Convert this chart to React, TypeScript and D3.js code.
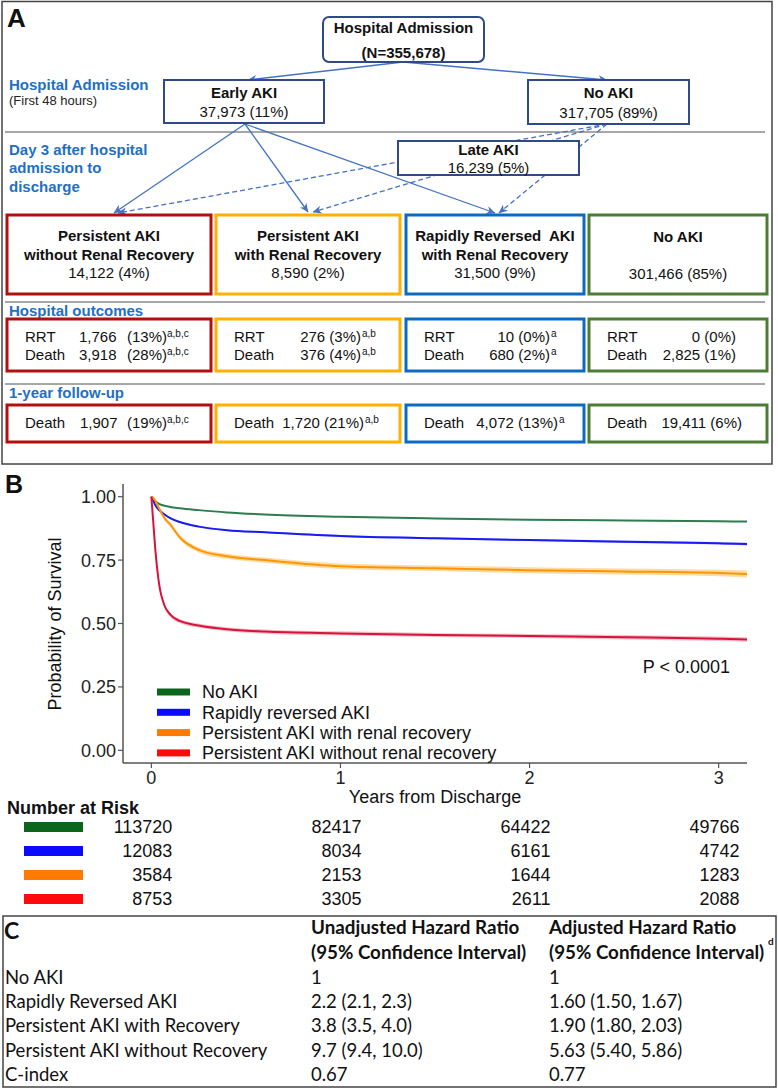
import React from 'react';
import * as d3 from 'd3';

const W = 778;
const H = 1088;
const SANS = "'Liberation Sans', Arial, Helvetica, sans-serif";
const CAL = "Lato, 'Liberation Sans', sans-serif";

// ---------- Panel A data ----------
const admissionTitle = 'Hospital Admission';
const admissionN = '(N=355,678)';
const earlyAKI = ['Early AKI', '37,973 (11%)'];
const noAKIEarly = ['No AKI', '317,705 (89%)'];
const lateAKI = ['Late AKI', '16,239 (5%)'];
const groupTitles = [
  ['Persistent AKI', 'without Renal Recovery'],
  ['Persistent AKI', 'with Renal Recovery'],
  ['Rapidly Reversed\u00A0 AKI', 'with Renal Recovery'],
  ['No AKI'],
];
const groupCounts = ['14,122 (4%)', '8,590 (2%)', '31,500 (9%)', '301,466 (85%)'];
const rrtValues = ['276 (3%)', '10 (0%)', '0 (0%)'];
const hospDeathValues = ['376 (4%)', '680 (2%)', '2,825 (1%)'];
const outcomeSup = ['a,b,c', 'a,b', 'a', ''];
const yearDeath = ['1,907', '1,720 (21%)', '4,072 (13%)', '19,411 (6%)'];

// ---------- Panel B data ----------
const years = [0, 0.01, 0.02, 0.04, 0.07, 0.1, 0.15, 0.25, 0.4, 0.6, 1.0, 1.5, 2.0, 2.5, 3.0, 3.15];
const survNoAKI = [1, 0.99, 0.982, 0.972, 0.964, 0.959, 0.954, 0.947, 0.938, 0.93, 0.921, 0.914, 0.909, 0.906, 0.903, 0.902];
const survRapid = [1, 0.985, 0.968, 0.948, 0.93, 0.915, 0.9, 0.882, 0.868, 0.86, 0.845, 0.836, 0.829, 0.822, 0.816, 0.813];
const survPersRec = [1, 0.995, 0.985, 0.955, 0.915, 0.89, 0.84, 0.79, 0.765, 0.75, 0.726, 0.718, 0.71, 0.705, 0.699, 0.695];
const survPersNoRec = [1, 0.9, 0.8, 0.66, 0.57, 0.535, 0.51, 0.492, 0.477, 0.468, 0.461, 0.455, 0.451, 0.446, 0.44, 0.437];
const ciNoAKI = [0, 0.001, 0.001, 0.001, 0.001, 0.001, 0.001, 0.001, 0.001, 0.001, 0.0015, 0.0015, 0.0015, 0.0015, 0.002, 0.002];
const ciRapid = [0, 0.002, 0.003, 0.003, 0.003, 0.003, 0.003, 0.003, 0.003, 0.003, 0.004, 0.004, 0.004, 0.005, 0.005, 0.005];
const ciPersRec = [0, 0.003, 0.005, 0.007, 0.008, 0.009, 0.009, 0.01, 0.01, 0.01, 0.011, 0.011, 0.012, 0.012, 0.013, 0.014];
const ciPersNoRec = [0, 0.005, 0.007, 0.008, 0.008, 0.008, 0.008, 0.008, 0.008, 0.008, 0.008, 0.008, 0.008, 0.009, 0.009, 0.009];
const legendLabels = ['No AKI', 'Rapidly reversed AKI', 'Persistent AKI with renal recovery', 'Persistent AKI without renal recovery'];
const xTicks = [0, 1, 2, 3];
const yTicks = [0, 0.25, 0.5, 0.75, 1];

const riskTimes = [0, 1, 2, 3];
const riskNoAKI = [113720, 82417, 64422, 49766];
const riskRapid = [12083, 8034, 6161, 4742];
const riskPersRec = [3584, 2153, 1644, 1283];
const riskPersNoRec = [8753, 3305, 2611, 2088];

// ---------- Panel C data ----------
const hrRows = ['No AKI', 'Rapidly Reversed AKI', 'Persistent AKI with Recovery', 'Persistent AKI without Recovery', 'C-index'];
const hrUnadj = ['1', '2.2 (2.1, 2.3)', '3.8 (3.5, 4.0)', '9.7 (9.4, 10.0)', '0.67'];
const hrAdj = ['1', '1.60 (1.50, 1.67)', '1.90 (1.80, 2.03)', '5.63 (5.40, 5.86)', '0.77'];

const BLUE_TXT = '#1F6FC5';
const ARROW = '#4472C4';
const NAVY = '#2F4A87';
const GROUP_COLORS = ['#B0100F', '#FFB000', '#0A6BC0', '#4E7C34'];
const BOX_X: [number, number][] = [[7, 211], [216, 400], [406, 584], [589, 767]];

type TProps = { x: number; y: number; s?: number; b?: boolean; a?: 'start' | 'middle' | 'end'; fill?: string; ff?: string; children?: React.ReactNode };
const T = ({ x, y, s = 15, b = false, a = 'start', fill = '#111', ff = SANS, children }: TProps) => (
  <text x={x} y={y + 0.36 * s} fontSize={s} fontWeight={b ? 'bold' : 'normal'} textAnchor={a} fill={fill} fontFamily={ff}>
    {children}
  </text>
);

const Sup = ({ x, y, children }: { x: number; y: number; children: React.ReactNode }) => (
  <text x={x} y={y} fontSize={10} fill="#111" fontFamily={SANS}>{children}</text>
);

export default function App() {
  const xS = d3.scaleLinear().domain([-0.15, 3.15]).range([123, 747]);
  const yS = d3.scaleLinear().domain([-0.05, 1.05]).range([763, 484]);

  const series = [
    { surv: survNoAKI, ci: ciNoAKI, line: '#2E7D4F', band: '#A6D8B6', key: '#0B661C', risk: riskNoAKI },
    { surv: survRapid, ci: ciRapid, line: '#1A1AF5', band: '#A8A8FF', key: '#0A0AFF', risk: riskRapid },
    { surv: survPersRec, ci: ciPersRec, line: '#FF9500', band: '#FDCF85', key: '#FF7A00', risk: riskPersRec },
    { surv: survPersNoRec, ci: ciPersNoRec, line: '#D8133A', band: '#F3A9B8', key: '#FF0A0A', risk: riskPersNoRec },
  ];

  const lineGen = d3.line<number>().x((_, i) => xS(years[i])).y((d) => yS(d)).curve(d3.curveMonotoneX);
  const areaGen = d3
    .area<{ t: number; lo: number; hi: number }>()
    .x((d) => xS(d.t))
    .y0((d) => yS(d.lo))
    .y1((d) => yS(d.hi))
    .curve(d3.curveMonotoneX);

  const fmt = d3.format('.2f');

  // flow arrows
  const admBottom: [number, number] = [403, 62];
  const earlyBottom: [number, number] = [245, 124];
  const noAkiBottom: [number, number] = [607, 124];
  const targets: [number, number][] = [[114, 213], [308, 212], [495, 213]];
  const lateTargets: [number, number][] = [[118, 213], [313, 212], [499, 213]];

  return (
    <svg width={W} height={H} style={{ position: 'absolute', left: 0, top: 0, background: '#fff' }} xmlns="http://www.w3.org/2000/svg">
      <defs>
        <marker id="ah" viewBox="0 0 10 10" refX="9.5" refY="5" markerWidth="9" markerHeight="9" orient="auto" markerUnits="userSpaceOnUse">
          <path d="M0,0.5 L10,5 L0,9.5 L3,5 z" fill={ARROW} />
        </marker>
      </defs>
      <rect x={0} y={0} width={W} height={H} fill="#fff" />

      {/* ================= Panel A ================= */}
      <rect x={2} y={1.5} width={770} height={462.5} fill="none" stroke="#444" strokeWidth={1.5} />
      <text x={7} y={27} fontSize={26} fontWeight="bold" fontFamily={SANS} fill="#111">A</text>

      {/* separators */}
      {[132, 302, 384].map((y) => (
        <line key={y} x1={5} x2={765} y1={y} y2={y} stroke="#A6A6A6" strokeWidth={2} />
      ))}

      {/* side labels */}
      <T x={9} y={85} b fill={BLUE_TXT}>Hospital Admission</T>
      <T x={9} y={100} s={13} fill="#222">(First 48 hours)</T>
      <T x={9} y={150} b fill={BLUE_TXT}>Day 3 after hospital</T>
      <T x={9} y={168} b fill={BLUE_TXT}>admission to</T>
      <T x={9} y={187} b fill={BLUE_TXT}>discharge</T>
      <T x={9} y={311} b fill={BLUE_TXT}>Hospital outcomes</T>
      <T x={9} y={393} b fill={BLUE_TXT}>1-year follow-up</T>

      {/* dashed lines from No AKI (behind Late AKI box) */}
      {lateTargets.map((t, i) => (
        <line key={'d' + i} x1={noAkiBottom[0]} y1={noAkiBottom[1]} x2={t[0]} y2={t[1]} stroke={ARROW} strokeWidth={1.3} strokeDasharray="5,3" markerEnd="url(#ah)" />
      ))}

      {/* solid lines */}
      <line x1={admBottom[0]} y1={admBottom[1]} x2={248} y2={80} stroke={ARROW} strokeWidth={1.5} markerEnd="url(#ah)" />
      <line x1={admBottom[0]} y1={admBottom[1]} x2={607} y2={80} stroke={ARROW} strokeWidth={1.5} markerEnd="url(#ah)" />
      {targets.map((t, i) => (
        <line key={'s' + i} x1={earlyBottom[0]} y1={earlyBottom[1]} x2={t[0]} y2={t[1]} stroke={ARROW} strokeWidth={1.3} markerEnd="url(#ah)" />
      ))}

      {/* top boxes */}
      <rect x={323} y={17} width={161} height={45} rx={6} fill="#fff" stroke={NAVY} strokeWidth={2} />
      <T x={403.5} y={28} b a="middle">{admissionTitle}</T>
      <T x={403.5} y={53} b a="middle">{admissionN}</T>

      <rect x={164} y={80} width={160} height={43} fill="#fff" stroke={NAVY} strokeWidth={2} />
      <T x={244} y={93} b a="middle">{earlyAKI[0]}</T>
      <T x={244} y={112} a="middle">{earlyAKI[1]}</T>

      <rect x={528} y={80} width={161} height={44} fill="#fff" stroke={NAVY} strokeWidth={2} />
      <T x={608.5} y={93} b a="middle">{noAKIEarly[0]}</T>
      <T x={608.5} y={113} a="middle">{noAKIEarly[1]}</T>

      <rect x={398} y={141} width={181} height={34} fill="#fff" stroke={NAVY} strokeWidth={2} />
      <T x={488.5} y={150} b a="middle">{lateAKI[0]}</T>
      <T x={488.5} y={168} a="middle">{lateAKI[1]}</T>

      {/* group boxes */}
      {BOX_X.map(([x0, x1], i) => (
        <g key={'g' + i}>
          <rect x={x0} y={215} width={x1 - x0} height={79} fill="#fff" stroke={GROUP_COLORS[i]} strokeWidth={3} />
          <rect x={x0} y={319} width={x1 - x0} height={52} fill="#fff" stroke={GROUP_COLORS[i]} strokeWidth={3} />
          <rect x={x0} y={405} width={x1 - x0} height={37} fill="#fff" stroke={GROUP_COLORS[i]} strokeWidth={3} />
          {groupTitles[i].length === 2 ? (
            <>
              <T x={(x0 + x1) / 2} y={236} b a="middle">{groupTitles[i][0]}</T>
              <T x={(x0 + x1) / 2} y={254.5} b a="middle">{groupTitles[i][1]}</T>
              <T x={(x0 + x1) / 2} y={273} a="middle">{groupCounts[i]}</T>
            </>
          ) : (
            <>
              <T x={(x0 + x1) / 2} y={237} b a="middle">{groupTitles[i][0]}</T>
              <T x={(x0 + x1) / 2} y={274} a="middle">{groupCounts[i]}</T>
            </>
          )}
          <T x={x0 + 18} y={337}>RRT</T>
          <T x={x0 + 18} y={355}>Death</T>
          <T x={x0 + 18} y={423}>Death</T>
        </g>
      ))}

      {/* outcome values: box 1 */}
      <T x={79} y={337}>1,766</T>
      <T x={127} y={337}>(13%)</T>
      <Sup x={167} y={337}>{outcomeSup[0]}</Sup>
      <T x={79} y={355}>3,918</T>
      <T x={127} y={355}>(28%)</T>
      <Sup x={167} y={355}>{outcomeSup[0]}</Sup>
      {/* boxes 2-4 right aligned */}
      {[361, 550, 736].map((xe, j) => (
        <g key={'o' + j}>
          <T x={xe} y={337} a="end">{rrtValues[j]}</T>
          <T x={xe} y={355} a="end">{hospDeathValues[j]}</T>
          {outcomeSup[j + 1] && <Sup x={xe + 1} y={337}>{outcomeSup[j + 1]}</Sup>}
          {outcomeSup[j + 1] && <Sup x={xe + 1} y={355}>{outcomeSup[j + 1]}</Sup>}
        </g>
      ))}

      {/* 1-year follow-up values */}
      <T x={80} y={423}>{yearDeath[0]}</T>
      <T x={127} y={423}>(19%)</T>
      <Sup x={167} y={423}>{outcomeSup[0]}</Sup>
      <T x={364} y={423} a="end">{yearDeath[1]}</T>
      <Sup x={365} y={423}>{outcomeSup[1]}</Sup>
      <T x={558} y={423} a="end">{yearDeath[2]}</T>
      <Sup x={559} y={423}>{outcomeSup[2]}</Sup>
      <T x={742} y={423} a="end">{yearDeath[3]}</T>

      {/* ================= Panel B ================= */}
      <text x={5} y={493} fontSize={25} fontWeight="bold" fontFamily={SANS} fill="#111">B</text>

      {/* ribbons */}
      {series.map((s, i) => (
        <path
          key={'r' + i}
          d={areaGen(years.map((t, k) => ({ t, lo: s.surv[k] - s.ci[k], hi: s.surv[k] + s.ci[k] }))) || ''}
          fill={s.band}
          opacity={0.75}
        />
      ))}
      {series.map((s, i) => (
        <path key={'l' + i} d={lineGen(s.surv) || ''} fill="none" stroke={s.line} strokeWidth={2} />
      ))}

      {/* axes */}
      <line x1={123} x2={123} y1={484} y2={763} stroke="#555" strokeWidth={1.5} />
      <line x1={123} x2={747} y1={763} y2={763} stroke="#555" strokeWidth={1.5} />
      {yTicks.map((v) => (
        <g key={'yt' + v}>
          <line x1={118} x2={123} y1={yS(v)} y2={yS(v)} stroke="#555" strokeWidth={1.2} />
          <T x={116} y={yS(v)} s={18} a="end" fill="#222">{fmt(v)}</T>
        </g>
      ))}
      {xTicks.map((v) => (
        <g key={'xt' + v}>
          <line x1={xS(v)} x2={xS(v)} y1={763} y2={768} stroke="#555" strokeWidth={1.2} />
          <T x={xS(v)} y={778} s={18} a="middle" fill="#222">{v}</T>
        </g>
      ))}
      <T x={435} y={797} s={18} a="middle" fill="#111">Years from Discharge</T>
      <text
        transform={`translate(${55 + 0.36 * 18},624) rotate(-90)`}
        fontSize={18}
        textAnchor="middle"
        fontFamily={SANS}
        fill="#111"
      >
        Probability of Survival
      </text>
      <T x={730} y={667} s={18} a="end" fill="#111">P &lt; 0.0001</T>

      {/* legend */}
      {legendLabels.map((lab, i) => (
        <g key={'lg' + i}>
          <rect x={157} y={692 + i * 20.3 - 3.5} width={33} height={7} fill={series[i].key} />
          <T x={202} y={692 + i * 20.3} s={18} fill="#111">{lab}</T>
        </g>
      ))}

      {/* number at risk */}
      <T x={7} y={808} s={18} b fill="#111">Number at Risk</T>
      {series.map((s, i) => (
        <g key={'nr' + i}>
          <rect x={24} y={827 + i * 24 - 5} width={59} height={10} fill={s.key} />
          {riskTimes.map((t, k) => (
            <T key={k} x={xS(t) + 21} y={827 + i * 24} s={18} a="end" fill="#111">{String(s.risk[k])}</T>
          ))}
        </g>
      ))}

      {/* ================= Panel C ================= */}
      <rect x={3} y={916} width={773} height={171} fill="none" stroke="#444" strokeWidth={1.5} />
      <text x={4} y={939} fontSize={23} fontWeight="bold" fontFamily={CAL} fill="#111">C</text>
      <T x={311} y={927} s={18.8} b ff={CAL}>Unadjusted Hazard Ratio</T>
      <T x={311} y={952} s={18.8} b ff={CAL}>(95% Confidence Interval)</T>
      <T x={549} y={927} s={18.8} b ff={CAL}>Adjusted Hazard Ratio</T>
      <T x={549} y={952} s={18.8} b ff={CAL}>(95% Confidence Interval)</T>
      <text x={768} y={945} fontSize={10} fontWeight="bold" fontFamily={CAL} fill="#111">d</text>
      {hrRows.map((r, i) => (
        <g key={'hr' + i}>
          <T x={5} y={977 + i * 24.3} s={18.5} ff={CAL}>{r}</T>
          <T x={311} y={977 + i * 24.3} s={18.5} ff={CAL}>{hrUnadj[i]}</T>
          <T x={549} y={977 + i * 24.3} s={18.5} ff={CAL}>{hrAdj[i]}</T>
        </g>
      ))}
    </svg>
  );
}
